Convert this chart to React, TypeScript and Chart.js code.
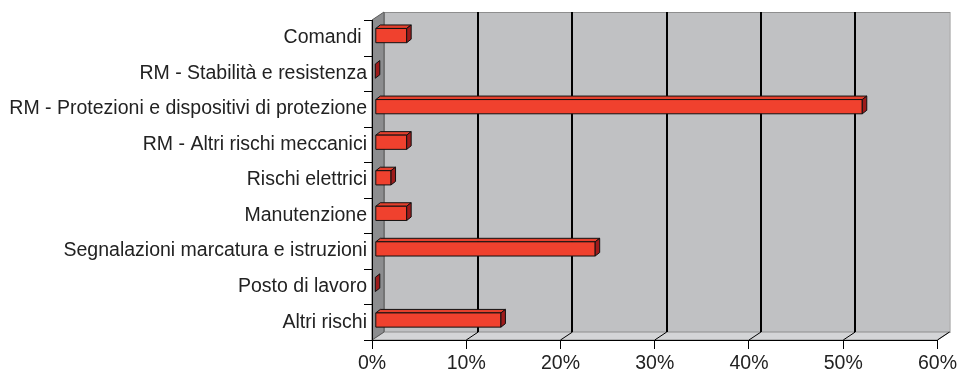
import React, { useEffect, useRef } from "react";
import { Chart, registerables } from "chart.js";

Chart.register(...registerables);

const categories = [
  "Comandi ",
  "RM - Stabilità e resistenza",
  "RM - Protezioni e dispositivi di protezione",
  "RM - Altri rischi meccanici",
  "Rischi elettrici",
  "Manutenzione",
  "Segnalazioni marcatura e istruzioni",
  "Posto di lavoro",
  "Altri rischi",
];
const percentValues = [3.33, 0, 51.67, 3.33, 1.67, 3.33, 23.33, 0, 13.33];
const xTicks = [0, 10, 20, 30, 40, 50, 60];

const DEPTH_X = 12;
const DEPTH_Y = -8;
const BAR_SHIFT_X = 3.3;
const BAR_SHIFT_Y = -2.2;
const BAR_DX = 4.5;
const BAR_DY = -3.5;

const wallPlugin = {
  id: "walls3d",
  beforeDraw(chart: any) {
    const { ctx, chartArea } = chart;
    const xs = chart.scales.x;
    const l = chartArea.left, r = chartArea.right, t = chartArea.top, b = chartArea.bottom;
    ctx.save();
    // back wall
    ctx.fillStyle = "#c0c1c3";
    ctx.fillRect(l + DEPTH_X, t + DEPTH_Y, r - l, b - t);
    ctx.strokeStyle = "#8e8e8e";
    ctx.lineWidth = 1;
    ctx.strokeRect(l + DEPTH_X + 0.5, t + DEPTH_Y + 0.5, r - l, b - t);
    // floor
    ctx.beginPath();
    ctx.moveTo(l, b);
    ctx.lineTo(r, b);
    ctx.lineTo(r + DEPTH_X, b + DEPTH_Y);
    ctx.lineTo(l + DEPTH_X, b + DEPTH_Y);
    ctx.closePath();
    ctx.fillStyle = "#d4d5d7";
    ctx.fill();
    ctx.strokeStyle = "#8e8e8e";
    ctx.stroke();
    // side wall
    ctx.beginPath();
    ctx.moveTo(l, t);
    ctx.lineTo(l + DEPTH_X, t + DEPTH_Y);
    ctx.lineTo(l + DEPTH_X, b + DEPTH_Y);
    ctx.lineTo(l, b);
    ctx.closePath();
    ctx.fillStyle = "#8c8d8f";
    ctx.fill();
    ctx.strokeStyle = "#5a5a5a";
    ctx.stroke();
    // gridlines on back wall
    ctx.strokeStyle = "#000";
    ctx.lineWidth = 2;
    xTicks.forEach((v) => {
      if (v === 0 || v === 60) return;
      const px = Math.round(xs.getPixelForValue(v)) + DEPTH_X;
      ctx.beginPath();
      ctx.moveTo(px, t + DEPTH_Y);
      ctx.lineTo(px, b + DEPTH_Y);
      ctx.stroke();
    });
    // floor diagonals
    ctx.lineWidth = 1;
    ctx.strokeStyle = "#000";
    xTicks.forEach((v) => {
      if (v === 0) return;
      const px = xs.getPixelForValue(v);
      ctx.beginPath();
      ctx.moveTo(px, b);
      ctx.lineTo(px + DEPTH_X, b + DEPTH_Y);
      ctx.stroke();
    });
    // y tick marks (category boundaries)
    ctx.strokeStyle = "#000";
    ctx.lineWidth = 1;
    for (let i = 0; i <= categories.length; i++) {
      const py = Math.round(t + ((b - t) * i) / categories.length) + 0.5;
      ctx.beginPath();
      ctx.moveTo(l - 8, py);
      ctx.lineTo(l, py);
      ctx.stroke();
    }
    ctx.restore();
  },
  afterDatasetsDraw(chart: any) {
    const { ctx } = chart;
    const meta = chart.getDatasetMeta(0);
    ctx.save();
    ctx.lineWidth = 1;
    ctx.strokeStyle = "#111";
    ctx.lineJoin = "round";
    meta.data.forEach((el: any) => {
      const p = el.getProps(["x", "y", "base", "height"], true);
      const x0 = p.base + BAR_SHIFT_X;
      const x1 = p.x + BAR_SHIFT_X;
      const h = p.height;
      const top = p.y + BAR_SHIFT_Y - h / 2;
      if (x1 - x0 > 0.5) {
        // top face
        ctx.beginPath();
        ctx.moveTo(x0, top);
        ctx.lineTo(x0 + BAR_DX, top + BAR_DY);
        ctx.lineTo(x1 + BAR_DX, top + BAR_DY);
        ctx.lineTo(x1, top);
        ctx.closePath();
        ctx.fillStyle = "#e4402d";
        ctx.fill();
        ctx.stroke();
        // front face
        ctx.fillStyle = "#f0412e";
        ctx.fillRect(x0, top, x1 - x0, h);
        ctx.strokeRect(x0, top, x1 - x0, h);
      }
      // side face
      ctx.beginPath();
      ctx.moveTo(x1, top);
      ctx.lineTo(x1 + BAR_DX, top + BAR_DY);
      ctx.lineTo(x1 + BAR_DX, top + h + BAR_DY);
      ctx.lineTo(x1, top + h);
      ctx.closePath();
      ctx.fillStyle = "#9e1b1b";
      ctx.fill();
      ctx.stroke();
    });
    ctx.restore();
  },
};

export default function App() {
  const ref = useRef<HTMLCanvasElement | null>(null);
  useEffect(() => {
    if (!ref.current) return;
    const font = { family: "'Liberation Sans', Arial, sans-serif", size: 19.5 };
    const chart = new Chart(ref.current, {
      type: "bar",
      data: {
        labels: categories,
        datasets: [
          {
            data: percentValues,
            backgroundColor: "rgba(0,0,0,0)",
            borderWidth: 0,
            categoryPercentage: 1,
            barPercentage: 0.4,
          },
        ],
      },
      options: {
        indexAxis: "y",
        animation: false,
        responsive: false,
        maintainAspectRatio: false,
        layout: { padding: { top: 20, right: 22, left: 0, bottom: 0 } },
        plugins: { legend: { display: false }, tooltip: { enabled: false } },
        scales: {
          x: {
            type: "linear",
            min: 0,
            max: 60,
            afterFit(scale: any) {
              scale.height = 34;
            },
            ticks: {
              stepSize: 10,
              callback: (v: any) => v + "%",
              color: "#222",
              font,
              padding: 3,
              maxRotation: 0,
            },
            grid: {
              drawOnChartArea: false,
              drawTicks: true,
              tickLength: 9,
              color: "#000",
            },
            border: { display: true, color: "#000", width: 1 },
          },
          y: {
            type: "category",
            afterFit(scale: any) {
              scale.width = 372;
            },
            ticks: { color: "#222", font, padding: 5, autoSkip: false },
            grid: { drawOnChartArea: false, drawTicks: false, offset: true },
            border: { display: true, color: "#000", width: 1 },
          },
        },
      },
      plugins: [wallPlugin],
    });
    return () => chart.destroy();
  }, []);
  return (
    <div style={{ position: "absolute", left: 0, top: 0, width: 960, height: 374, background: "#fff" }}>
      <canvas ref={ref} width={960} height={374} />
    </div>
  );
}
